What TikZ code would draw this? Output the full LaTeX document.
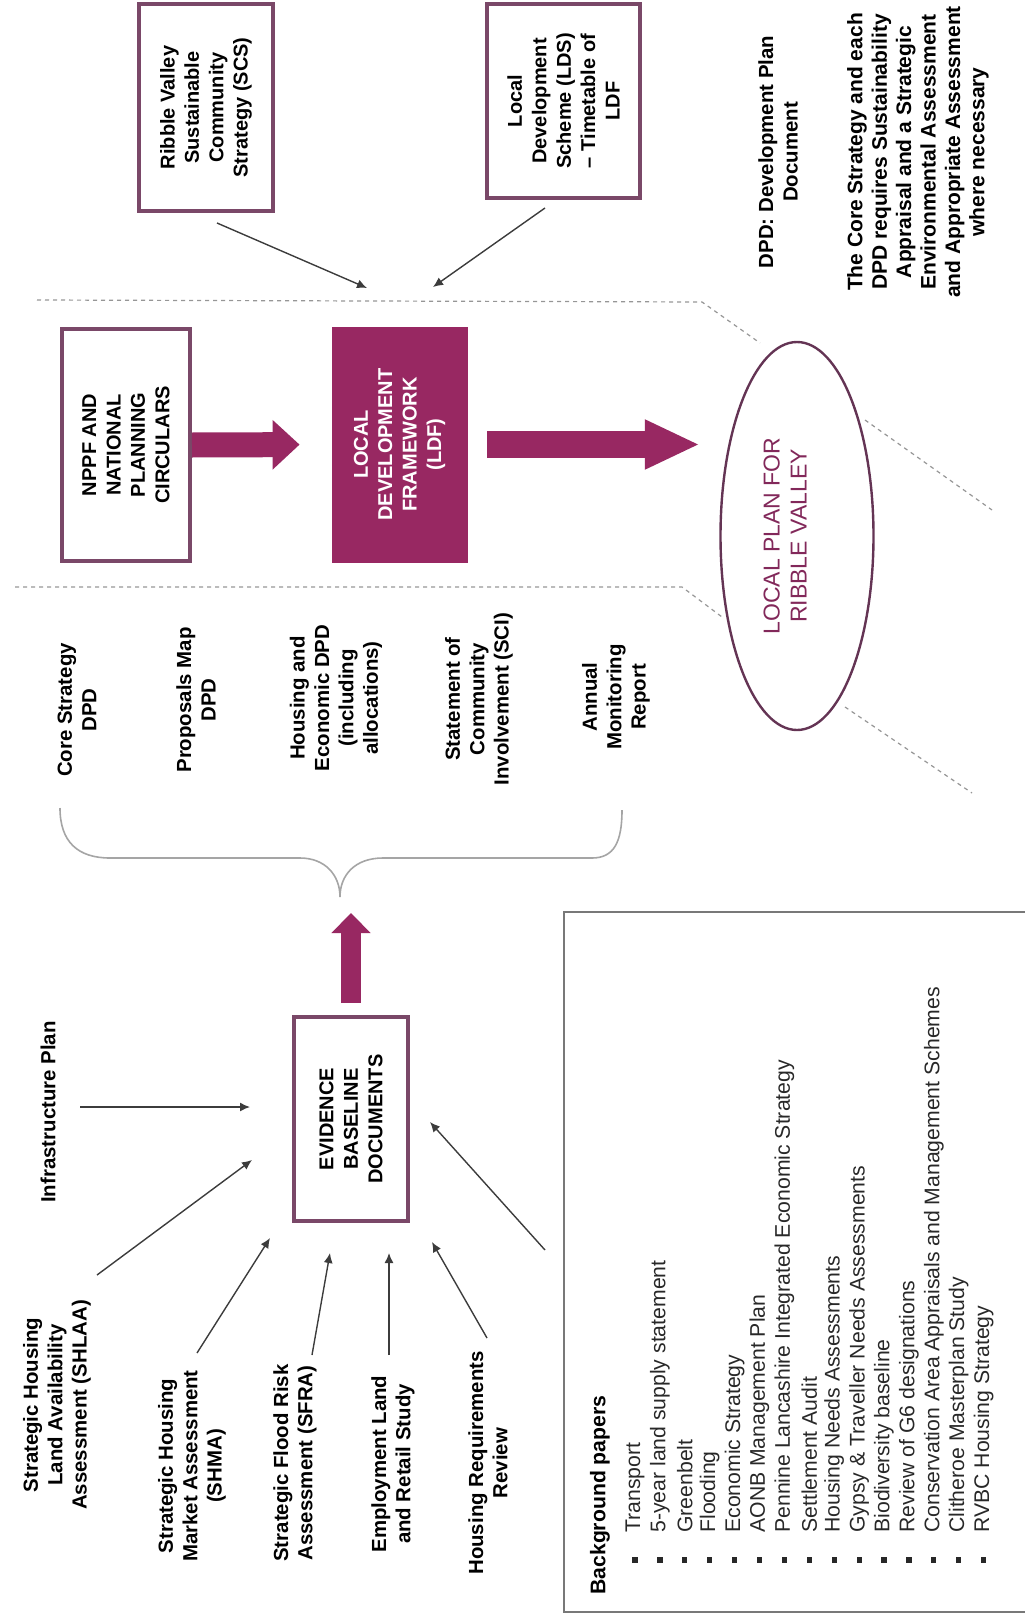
\documentclass[tikz,border=0pt]{standalone}
\usepackage{fontspec}
\setmainfont{Liberation Sans}
\usetikzlibrary{arrows.meta,shapes.geometric,calc}
\definecolor{boxc}{RGB}{122,72,104}
\definecolor{magc}{RGB}{152,40,98}
\definecolor{ellc}{RGB}{100,52,84}
\definecolor{elltxt}{RGB}{130,40,90}
\definecolor{dashc}{RGB}{150,150,150}
\definecolor{arrc}{RGB}{60,60,60}
\definecolor{bracec}{RGB}{165,165,165}
\definecolor{framec}{RGB}{120,120,120}
\definecolor{listc}{RGB}{40,40,40}
\begin{document}
\begin{tikzpicture}[x=0.5pt,y=-0.5pt,
  every node/.style={font=\fontsize{10}{12.2}\selectfont},
  lab/.style={rotate=90, align=center, inner sep=0pt, font=\fontsize{10.2}{12.2}\selectfont\bfseries},
  pbox/.style={rotate=90, draw=boxc, line width=2pt, fill=white, align=center, inner sep=0pt, font=\fontsize{10}{12.2}\selectfont\bfseries},
  fbox/.style={rotate=90, draw=magc, fill=magc, text=white, align=center, inner sep=0pt, font=\fontsize{10}{12.2}\selectfont\bfseries},
  thinarr/.style={draw=arrc, line width=0.7pt, -{Latex[length=5pt 0,width=4.5pt 0]}},
  dline/.style={draw=dashc, line width=0.6pt, dash pattern=on 2pt off 2pt},
  blk/.style={draw=magc, line cap=butt},
  item/.style={rotate=90, anchor=west, inner sep=0pt, text=listc, font=\fontsize{10.6}{12}\selectfont},
  bul/.style={fill=listc, minimum size=2.6pt, inner sep=0pt},
]
\useasboundingbox (0,0) rectangle (1024,1621);

% --- top boxes and notes
\node[pbox, minimum width=103.5pt, minimum height=67pt] (scs) at (206,107.5) {Ribble Valley\\Sustainable\\Community\\Strategy (SCS)};
\node[pbox, minimum width=97pt, minimum height=76.5pt] (lds) at (563.5,101) {Local\\Development\\Scheme (LDS)\\-- Timetable of\\LDF};
\node[lab] (dpd) at (778,152) {DPD: Development Plan\\Document};
\node[lab, font=\fontsize{10.5}{12.2}\selectfont\bfseries] (note) at (918,152) {The Core Strategy and each\\DPD requires Sustainability\\Appraisal and a Strategic\\Environmental Assessment\\and Appropriate Assessment\\where necessary};

% --- middle row
\node[pbox, minimum width=116pt, minimum height=64pt] (nppf) at (126,445) {NPPF AND\\NATIONAL\\PLANNING\\CIRCULARS};
\node[fbox, minimum width=117.5pt, minimum height=67.5pt] (ldf) at (399.5,444.5) {LOCAL\\DEVELOPMENT\\FRAMEWORK\\(LDF)};
\node[ellipse, rotate=90, draw=ellc, line width=1.2pt, fill=white, minimum width=194pt, minimum height=76.5pt, inner sep=0pt] (lp) at (797,536) {};
\node[rotate=90, inner sep=0pt, text=elltxt, align=center, font=\fontsize{11.5}{13.5}\selectfont] (lpt) at (785,536) {LOCAL PLAN FOR\\RIBBLE VALLEY};

% --- dashed funnel lines
\coordinate (da1) at (37,300); \coordinate (da2) at (702,302); \coordinate (da3) at (760,343);
\coordinate (db1) at (865,420); \coordinate (db2) at (992,510);
\coordinate (dc1) at (15,587); \coordinate (dc2) at (682,587); \coordinate (dc3) at (722,617);
\coordinate (dd1) at (845,707); \coordinate (dd2) at (972,793);
\draw[dline] (da1) -- (da2) -- (da3);
\draw[dline] (db1) -- (db2);
\draw[dline] (dc1) -- (dc2) -- (dc3);
\draw[dline] (dd1) -- (dd2);

% --- arrows into the LDF line
\coordinate (s8a) at (217,223); \coordinate (s8b) at (367,288);
\coordinate (s9a) at (545,208); \coordinate (s9b) at (433,287);
\draw[thinarr] (s8a) -- (s8b);
\draw[thinarr] (s9a) -- (s9b);

% --- block arrows
\draw[blk, line width=12.5pt, -{Triangle[length=13.5pt 0,width=24pt 0]}, shorten >=16pt] (nppf.south) -- (ldf.north);
\draw[blk, line width=13.5pt, -{Triangle[length=27.5pt 0,width=23pt 0]}, shorten <=10pt, shorten >=9.75pt] (ldf.south) -- (lp.north |- ldf.south);

% --- DPD list
\node[lab] (core) at (77,710) {Core Strategy\\DPD};
\node[lab] (prop) at (196,700) {Proposals Map\\DPD};
\node[lab] (hsg) at (336,698) {Housing and\\Economic DPD\\(including\\allocations)};
\node[lab] (sci) at (479,699) {Statement of\\Community\\Involvement (SCI)};
\node[lab] (amr) at (616,697) {Annual\\Monitoring\\Report};

% --- brace
\draw[bracec, line width=0.8pt] (60,808) .. controls (60,842) and (78,858) .. (110,858) -- (300,858)
  .. controls (325,858) and (340,875) .. (340,897)
  .. controls (340,875) and (355,858) .. (383,858) -- (592,858)
  .. controls (614,858) and (622,842) .. (622,810);

% --- evidence box
\node[pbox, minimum width=102pt, minimum height=57pt] (evid) at (351,1119) {EVIDENCE\\BASELINE\\DOCUMENTS};
\coordinate (uptip) at (351,913);
\draw[blk, line width=10pt, -{Triangle[length=10pt 0,width=19pt 0]}, shorten <=6pt] (evid.east) -- (uptip);

% --- evidence sources
\node[lab] (infra) at (48,1112) {Infrastructure Plan};
\node[lab] (shlaa) at (57,1405) {Strategic Housing\\Land Availability\\Assessment (SHLAA)};
\node[lab] (shma) at (192,1466) {Strategic Housing\\Market Assessment\\(SHMA)};
\node[lab] (sfra) at (295,1463) {Strategic Flood Risk\\Assessment (SFRA)};
\node[lab] (elr) at (393,1464) {Employment Land\\and Retail Study};
\node[lab] (hrr) at (488,1463) {Housing Requirements\\Review};

\coordinate (a1s) at (80,1107);  \coordinate (a1t) at (250,1107);
\coordinate (a2s) at (97,1275);  \coordinate (a2t) at (252,1160);
\coordinate (a3s) at (197,1353); \coordinate (a3t) at (270,1238);
\coordinate (a4s) at (312,1355); \coordinate (a4t) at (330,1253);
\coordinate (a5s) at (389,1355); \coordinate (a5t) at (389,1253);
\coordinate (a6s) at (487,1338); \coordinate (a6t) at (432,1242);
\coordinate (a7s) at (545,1250); \coordinate (a7t) at (430,1122);
\foreach \k in {1,...,7} { \draw[thinarr] (a\k s) -- (a\k t); }

% --- background papers
\draw[framec, line width=1pt] (564,912) rectangle (1040,1612);
\node[rotate=90, anchor=west, inner sep=0pt, font=\fontsize{10.6}{12}\selectfont\bfseries] (bgt) at (600,1595) {Background papers};
\foreach \t [count=\i from 0] in {Transport,5-year land supply statement,Greenbelt,Flooding,Economic Strategy,AONB Management Plan,Pennine Lancashire Integrated Economic Strategy,Settlement Audit,Housing Needs Assessments,Gypsy \& Traveller Needs Assessments,Biodiversity baseline,Review of G6 designations,Conservation Area Appraisals and Management Schemes,Clitheroe Masterplan Study,RVBC Housing Strategy} {
  \node[item] (it\i) at ({635+24.9*\i},1533) {\t};
  \node[bul] (bu\i) at ({635+24.9*\i},1560) {};
}
\end{tikzpicture}
\end{document}
